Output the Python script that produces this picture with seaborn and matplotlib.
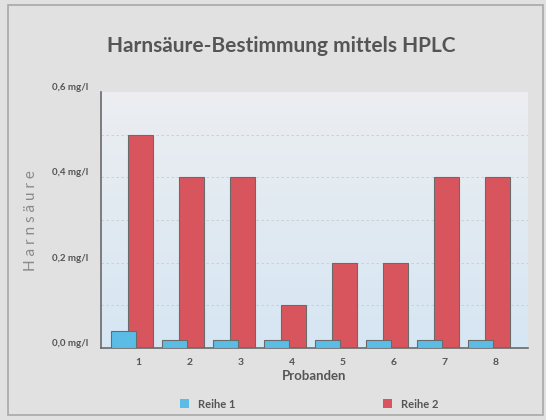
import numpy as np
import pandas as pd
import matplotlib.pyplot as plt
import seaborn as sns
from matplotlib.ticker import MultipleLocator, FixedLocator
from matplotlib.patches import Rectangle
from matplotlib.colors import LinearSegmentedColormap

probanden = ["1", "2", "3", "4", "5", "6", "7", "8"]
reihe1 = [0.04, 0.02, 0.02, 0.02, 0.02, 0.02, 0.02, 0.02]
reihe2 = [0.5, 0.4, 0.4, 0.1, 0.2, 0.2, 0.4, 0.4]
y_labels = ["0,0 mg/l", "0,2 mg/l", "0,4 mg/l", "0,6 mg/l"]

df = pd.DataFrame({
    "Proband": probanden * 2,
    "Wert": reihe1 + reihe2,
    "Reihe": ["Reihe 1"] * 8 + ["Reihe 2"] * 8,
})

sns.set_style("white")
plt.rcParams["font.family"] = ["Lato", "DejaVu Sans"]

blue = "#5bbde6"
red = "#d9555d"
grey_txt = "#555555"

fig = plt.figure(figsize=(5.46, 4.2), dpi=100, facecolor="#e1e1e1")
fig.patches.append(Rectangle((0.014, 0.012), 0.98, 0.975, transform=fig.transFigure,
                             fill=False, edgecolor="#a8a8a8", lw=1.2))
ax = fig.add_axes([0.185, 0.171, 0.782, 0.61])

sns.barplot(data=df, x="Proband", y="Wert", hue="Reihe", palette=[blue, red],
            width=0.98, saturation=1, edgecolor="#6a6a6a", linewidth=0.8,
            ax=ax, legend=False)

# overlap: blue bars in front, shifted right onto the red bars
for i, p in enumerate(ax.patches):
    if i < 8:
        p.set_x(p.get_x() + 0.145)
        p.set_zorder(3)
    else:
        p.set_x(p.get_x() - 0.01)
        p.set_zorder(2)

# gradient background
grad = np.linspace(0, 1, 256).reshape(-1, 1)
cmap = LinearSegmentedColormap.from_list("bg", ["#d6e6f3", "#eceef1"])
ax.imshow(grad, cmap=cmap, aspect="auto", extent=[-0.54, 7.83, 0, 0.6],
          origin="lower", zorder=0)
ax.set_facecolor("none")

ax.set_xlim(-0.54, 7.83)
ax.set_ylim(0, 0.6)

ax.set_yticks([0, 0.2, 0.4, 0.6])
ax.set_yticklabels(y_labels)
ax.yaxis.set_minor_locator(MultipleLocator(0.1))
for yv in np.arange(0.1, 0.6, 0.1):
    ax.axhline(yv, color="#c8ccd2", lw=0.6, ls=(0, (3, 3)), zorder=1)

ax.xaxis.set_major_locator(FixedLocator(np.arange(-0.5, 8, 1)))
ax.set_xticklabels([])
ax.xaxis.set_minor_locator(FixedLocator(np.arange(8) + 0.2))
ax.xaxis.set_minor_formatter(plt.FixedFormatter(probanden))

ax.tick_params(axis="y", which="both", direction="inout", length=5, width=1,
               color="#6a6a6a", labelsize=7, labelcolor=grey_txt, pad=7)
ax.tick_params(axis="x", which="major", direction="inout", length=5, width=1, color="#6a6a6a")
ax.tick_params(axis="x", which="minor", length=0, labelsize=7.5, labelcolor=grey_txt, pad=7)
for lab in ax.get_yticklabels() + ax.get_xticklabels(minor=True):
    lab.set_fontweight("bold")
for lab in ax.get_yticklabels():
    lab.set_verticalalignment("bottom")

for s in ["top", "right"]:
    ax.spines[s].set_visible(False)
for s in ["left", "bottom"]:
    ax.spines[s].set_color("#6a6a6a")
    ax.spines[s].set_linewidth(1.2)

ax.set_xlabel("Probanden", fontsize=9.5, fontweight="bold", color=grey_txt, labelpad=2)
ax.set_ylabel("H a r n s ä u r e", fontsize=11, color="#8a8a8a")
ax.yaxis.set_label_coords(-0.148, 0.5)

fig.text(0.515, 0.89, "Harnsäure-Bestimmung mittels HPLC", ha="center", va="center",
         fontsize=15, fontweight="bold", color=grey_txt)

handles = [Rectangle((0, 0), 1, 1, facecolor=blue, edgecolor="none"),
           Rectangle((0, 0), 1, 1, facecolor=red, edgecolor="none")]
leg = fig.legend(handles, ["Reihe 1", "Reihe 2"], loc="center", bbox_to_anchor=(0.567, 0.038),
                 ncol=2, frameon=False, fontsize=8, columnspacing=13.3,
                 handlelength=0.8, handleheight=0.8, handletextpad=0.8)
for t in leg.get_texts():
    t.set_color(grey_txt)
    t.set_fontweight("bold")

fig.savefig("out.png", dpi=100, facecolor=fig.get_facecolor())
